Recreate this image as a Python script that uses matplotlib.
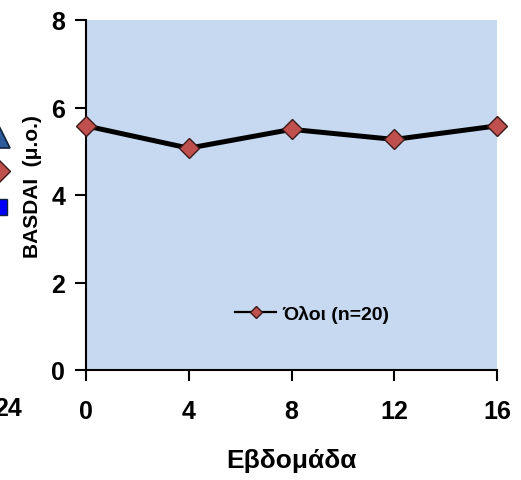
import matplotlib
matplotlib.use("Agg")
import matplotlib.pyplot as plt
from matplotlib.transforms import ScaledTranslation

plt.rcParams['font.family'] = ['Liberation Sans', 'DejaVu Sans']

# Main chart data
weeks = [0, 4, 8, 12, 16]
basdai_all = [5.58, 5.07, 5.50, 5.27, 5.58]
series_label = "Όλοι (n=20)"
x_ticks = [0, 4, 8, 12, 16]
y_ticks = [0, 2, 4, 6, 8]

# Fragment of neighbouring chart (visible at left edge)
nb_week = [24]
nb_tri = [5.33]
nb_dia = [4.55]
nb_sq = [3.73]

fig = plt.figure(figsize=(5.21, 4.81), dpi=100)
ax = fig.add_axes([86/521, 1-371/481, (497-86)/521, (371-21)/481])
ax.set_facecolor('#C6D9F0')
ax.plot(weeks, basdai_all, color='black', lw=3.6, marker='D', ms=10,
        mfc='#C0504D', mec='#3a1a18', mew=1.0, label=series_label, clip_on=False, zorder=3)
ax.set_xlim(0, 16)
ax.set_ylim(0, 8)
ax.set_xticks(x_ticks)
ax.set_yticks(y_ticks)
for s in ['top', 'right']:
    ax.spines[s].set_visible(False)
for s in ['left', 'bottom']:
    ax.spines[s].set_linewidth(1.5)
ax.tick_params(axis='both', which='major', direction='out', length=8, width=1.5,
               labelsize=18, pad=7)
for lab in ax.get_xticklabels() + ax.get_yticklabels():
    lab.set_fontweight('bold')
ax.tick_params(axis='x', pad=13)
ax.set_xlabel('Εβδομάδα', fontsize=19, fontweight='bold', labelpad=18)
ax.set_ylabel('BASDAI  (μ.ο.)', fontsize=15, fontweight='bold')
ax.yaxis.set_label_coords(-0.108, 0.526)
leg = ax.legend(loc='center', bbox_to_anchor=(0.55, 0.16), frameon=False,
                prop={'size': 14, 'weight': 'bold'}, handlelength=2.1,
                handletextpad=0.3, markerscale=0.6)
for h in leg.legend_handles:
    h.set_linewidth(1.6)

# neighbouring chart fragment
ax2 = fig.add_axes([-0.3, 1-371/481, 0.3 - 1/521, (371-21)/481])
ax2.set_xlim(0, 24)
ax2.set_ylim(0, 8)
ax2.patch.set_visible(False)
for s in ax2.spines.values():
    s.set_visible(False)
ax2.plot(nb_week, nb_tri, ls='none', marker='^', ms=16, mfc='#2E5C9A', mec='#10233d', mew=1.2, clip_on=False)
ax2.plot(nb_week, nb_dia, ls='none', marker='D', ms=11, mfc='#C0504D', mec='#3a1a18', mew=1.0, clip_on=False)
ax2.plot(nb_week, nb_sq, ls='none', marker='s', ms=11, mfc='#0000FF', mec='#10233d', mew=1.0, clip_on=False)
ax2.set_yticks([])
ax2.set_xticks(nb_week)
ax2.set_xticklabels(['24'], fontsize=18, fontweight='bold')
ax2.tick_params(axis='x', length=0, pad=19)
for lab in ax2.get_xticklabels():
    lab.set_transform(lab.get_transform() + ScaledTranslation(9/100, 0, fig.dpi_scale_trans))

fig.savefig('out.png', dpi=100)
